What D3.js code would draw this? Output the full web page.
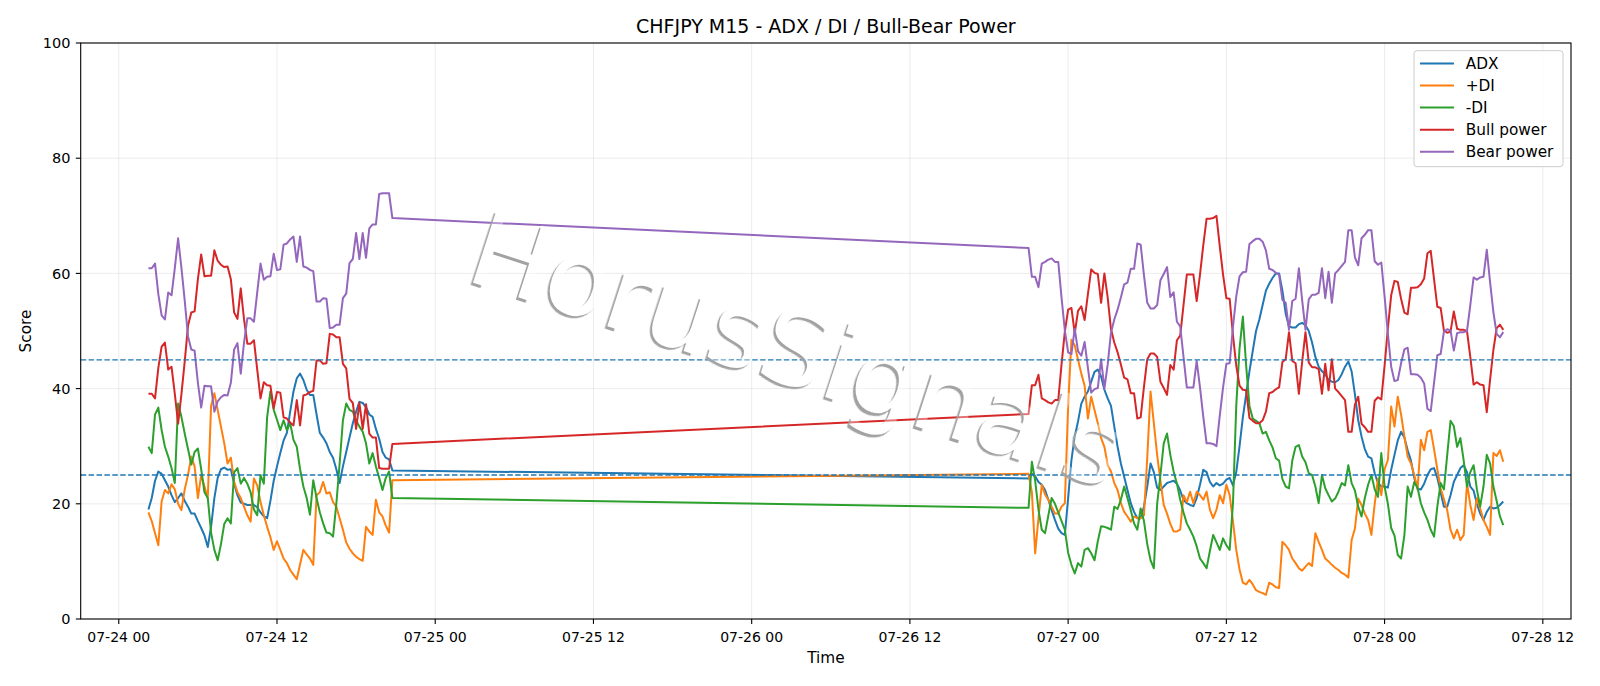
<!DOCTYPE html>
<html><head><meta charset="utf-8">
<script src="https://cdn.jsdelivr.net/npm/d3@7"></script>
<style>
html,body{margin:0;padding:0;background:#fff;}
svg{display:block;}
text{font-family:"DejaVu Sans",sans-serif;}
</style>
</head><body>
<svg id="chart" width="1600" height="686"></svg>
<script>
// ---- DATA ----
const sessions = [
  {start: "2020-07-24 02:15", bars: 75},
  {start: "2020-07-26 21:00", bars: 145}
];
const seriesNames = ["ADX", "+DI", "-DI", "Bull power", "Bear power"];
const yTicks = [0, 20, 40, 60, 80, 100];
const refLevels = [25, 45];

const adx = [
  19, 21, 24, 25.6, 25.2, 24.1, 23, 21.5, 20.3, 21,
  21.8, 20.5, 19.5, 18.3, 18.3, 17, 15.8, 14.5, 12.5, 16,
  21, 24.5, 26, 26.3, 25.9, 26, 23.5, 21.5, 20.2, 20,
  19.8, 19.8, 19.8, 19.4, 18.5, 17.8, 17.5, 20.5, 24, 26.5,
  28.8, 31, 32.3, 36, 39.5, 41.8, 42.6, 41.5, 39.8, 38.9,
  38.9, 35.5, 32.3, 31.5, 30.5, 29, 28, 26, 23.6, 26.5,
  29, 31.5, 34, 36, 37.7, 37.5, 36.8, 35.5, 35.1, 33,
  31.3, 29, 28, 27.7, 25.8,
  24.4, 25.2, 24.8, 23.8, 23.3, 22.4, 20.7, 18.9, 17.2, 15.7,
  14.9, 14.6, 21, 27.6, 31.7, 34.3, 37.4, 38.6, 39.5, 41.2,
  42.9, 43.3, 42.1, 39.8, 38.3, 37, 33.4, 29.9, 27.0, 24.7,
  22.4, 20.1, 18.6, 17.5,
  17.5, 19.5, 23, 27, 25.5, 22.8, 22.4, 23, 23.6, 23.8,
  24, 23.5, 22.3, 20.7, 20.1, 19.8, 19.6, 21, 23.3, 25.9,
  25.5, 23.8, 23, 23.6, 23.2, 23.5, 24.2, 24.5, 23.2, 25.5,
  30, 35, 39, 43, 46.5, 50, 52,
  54.5, 57, 58.2, 59.2, 60, 60, 57, 53, 50.8, 50.6,
  50.6, 51.2, 51.4, 51, 50, 48, 45.5, 43.8, 43, 42.5,
  41.5, 41.2, 41.1, 41.5, 42.5, 43.8, 44.7, 43, 39, 34.5,
  31.7, 29.5, 28.2, 27.9,
  25.3, 23.6, 23.0, 23.0, 22.8, 25.9, 28.5, 31, 32.5, 31.5,
  29.3, 27.5, 24.5, 22.6, 22.5, 23.5, 25, 26, 26.2, 24.5,
  22, 19.5, 19.5, 21.5, 23.8, 25, 26.2, 26.7, 25.5, 23,
  22.3, 20, 18.3, 17.2, 18.6, 19.5, 19.2, 19.3, 19.8, 20.4
];
const plusDI = [
  18.5, 17, 14.9, 12.8, 20.4, 22.4, 21.8, 23.4, 22.5, 20,
  18.9, 22.5, 25, 28.2, 26.5, 21, 25, 23, 21, 37,
  39.2, 36.3, 33.4, 30.5, 27, 28, 23.8, 22, 21, 19.5,
  18, 16.9, 24.4, 23.2, 20.3, 18, 16, 14.2, 12, 13.5,
  12, 10.5, 9.7, 8.5, 7.7, 6.9, 9.5, 12, 11.2, 10.5,
  9.4, 21.5, 22, 23.8, 21.8, 22, 20.3, 19.5, 17.5, 15.5,
  13.3, 12.2, 11.4, 10.8, 10.4, 10.1, 16, 15.2, 14.6, 20.7,
  18.5, 17.8, 16.2, 15, 24.1,
  25.2, 22, 11.4, 17.5, 23.3, 21.6, 20.7, 19.5, 18.3, 18.3,
  19.5, 20.1, 37, 48.5, 47.5, 45, 42.6, 40.5, 34.8, 38.6,
  36.3, 34, 31.4, 29.9, 26.7, 25.6, 23.6, 22.4, 20.1, 18.6,
  17.8, 16.9, 17.8, 17.5,
  17.5, 18, 28, 39.5, 34, 28.5, 24, 19.8, 18.3, 16.5,
  15.2, 15.2, 15.5, 21.5, 20.3, 22.1, 20.1, 22.1, 21.5, 20.7,
  22.1, 19, 17.5, 19, 21.5, 20.1, 23.3, 21.5, 17, 12,
  8.6, 6.3, 6, 6.8, 6, 5.0, 4.7,
  4.5, 4.2, 6.3, 6.0, 5.5, 5.4, 13.4, 12.8, 12.0, 10.5,
  9.7, 8.8, 8.4, 9.1, 9.7, 9.2, 14.9, 13.4, 12.0, 10.5,
  10, 9.4, 8.9, 8.5, 8, 7.7, 7.2, 13.7, 15.7, 20.9,
  19.8, 18.3, 17.2, 14.6,
  20, 24.4, 21.5, 26, 27.6, 36.9, 33.4, 38.6, 35.5, 31.7,
  28.2, 27, 25.0, 22.5, 31.1, 29.3, 32.5, 32.8, 29.5, 26.0,
  22.7, 20.8, 18.9, 15.5, 14.0, 15.5, 13.7, 14.6, 23.6, 19.8,
  17.2, 21, 19.2, 17.2, 16, 14.6, 28.8, 28.3, 29.3, 27.3
];
const minusDI = [
  29.9, 28.8, 35.5, 36.7, 32.8, 29.9, 28.2, 26.2, 23.6, 37.4,
  35.1, 32.2, 29.5, 26.8, 29, 29.6, 26, 22, 21, 15,
  12, 10.2, 13, 16.5, 17.5, 16.6, 25.5, 26.2, 23.5, 24.5,
  23.5, 22, 19, 18, 25, 23.5, 35, 39.5, 36.3, 34.6,
  32.8, 34.5, 32.8, 34, 31.1, 29.9, 26, 23, 21, 18.1,
  24.1, 21, 18.5, 16.6, 15, 14.9, 14.3, 20, 27, 34.5,
  37.4, 36.3, 36, 34.5, 33.4, 32.5, 30.5, 27, 28.8, 26.5,
  24.5, 22.4, 24.5, 25.6, 21,
  19.3, 27.3, 24, 19, 15.5, 14.9, 18, 21, 20, 18.5,
  17, 15.5, 11.5, 9.4, 7.9, 9.7, 9.1, 12.0, 12.3, 11.4,
  10.2, 13.5, 16.1, 16.0, 15.8, 15.5, 19.5, 19.1, 20.7, 23.0,
  21, 18.9, 16.6, 15.5,
  19.2, 17, 13, 10.2, 8.8, 20, 25, 30.5, 32.2, 28.5,
  25.6, 23.5, 20.7, 18.5, 16.6, 15.5, 14.3, 12.6, 10.5, 9.7,
  8.8, 11.8, 14.6, 13.3, 12, 14, 12.8, 12, 20, 37,
  47, 52.5, 44, 37, 34.8, 34.4, 34,
  32.2, 32.5, 31, 29.8, 27.9, 27.5, 24.3, 23, 22.7, 27.5,
  29.9, 30.2, 28.2, 27.2, 25.3, 25, 23, 20.1, 25, 22.7,
  21.5, 20.4, 20.9, 22.1, 23.6, 23.2, 26.7, 23.6, 22.3, 19.5,
  17.8, 21, 23.3, 25,
  22.5, 21.2, 28.8, 23, 20, 15.8, 14.5, 11.1, 10.5, 14.5,
  23.0, 21.2, 23.8, 22.8, 20.1, 18.5, 17.2, 15.5, 14.3, 19.5,
  23.6, 22.5, 28.5, 34.4, 33.5, 29.9, 31.4, 27.5, 23.0, 25.5,
  26.7, 22.5, 19.5, 23, 28.5, 27, 23, 20.5, 17.8, 16.3
];
const bullPower = [
  39.1, 39.1, 38.3, 43.6, 47.3, 48.0, 43.3, 43.8, 39.1, 33.9,
  39.0, 44.7, 50.9, 53.2, 53.4, 59.0, 63.3, 59.5, 59.6, 59.6,
  64.0, 62.2, 61.5, 61.1, 61.2, 59.0, 53.2, 52.1, 57.4, 52.0,
  47.8, 47.8, 48.4, 43.3, 38.3, 41.1, 40.6, 40.5, 36.6, 39.4,
  39.3, 35.0, 34.8, 34.1, 33.6, 38.0, 33.6, 38.8, 39.0, 39.4,
  39.6, 44.9, 44.9, 44.3, 44.4, 49.5, 49.4, 48.9, 48.9, 44.3,
  43.5, 38.2, 37.5, 33.0, 37.5, 33.0, 37.3, 32.2, 31.5, 31.5,
  26.2, 26.1, 26.1, 26.1, 30.4,
  35.6, 40.6, 40.6, 42.4, 38.3, 38.0, 37.6, 37.4, 38.0, 38.0,
  44.2, 49.9, 53.7, 54.0, 49.6, 53.5, 54.3, 51.9, 56.4, 60.7,
  60.1, 59.9, 54.9, 60.0, 55.8, 50.3, 48.0, 46.3, 44.2, 41.9,
  41.6, 39.2, 39.2, 34.8,
  35.0, 40.3, 45.1, 46.1, 46.1, 45.5, 41.2, 40.1, 38.9, 44.1,
  43.3, 48.4, 49.2, 54.5, 59.8, 59.8, 59.8, 55.2, 59.8, 64.9,
  69.5, 69.5, 69.6, 70.0, 64.7, 59.8, 55.7, 55.6, 49.3, 44.0,
  40.5, 39.8, 39.7, 34.9, 34.4,
  34.0, 34.0, 34.5, 36.0, 39.2, 39.4, 39.9, 40.2, 44.6, 45.1,
  49.8, 44.8, 44.4, 39.1, 44.7, 49.8, 44.5, 43.7, 43.7, 43.4,
  39.1, 44.3, 39.7, 45.1, 40.0, 39.4, 38.7, 38.0, 32.5, 32.5,
  37.2, 38.6, 33.9, 33.3, 32.5, 32.5,
  37.9, 38.5, 38.1, 44.0, 50.5, 56.2, 58.7, 58.5, 55.6, 53.2,
  52.9, 57.5, 57.5, 57.6, 58.1, 59.1, 63.5, 63.9, 59.0, 54.2,
  54.0, 50.1, 49.7, 49.9, 53.4, 50.4, 50.2, 50.2, 50.0, 45.5,
  40.7, 41.1, 40.7, 40.6, 35.9, 41.5, 46.7, 50.5, 51.1, 50.2
];
const bearPower = [
  60.9, 60.9, 61.7, 56.4, 52.7, 52.0, 56.7, 56.2, 60.9, 66.1,
  61.0, 55.3, 49.1, 46.8, 46.6, 41.0, 36.7, 40.5, 40.4, 40.4,
  36.0, 37.8, 38.5, 38.9, 38.8, 41.0, 46.8, 47.9, 42.6, 48.0,
  52.2, 52.2, 51.6, 56.7, 61.7, 58.9, 59.4, 59.5, 63.4, 60.6,
  60.7, 65.0, 65.2, 65.9, 66.4, 62.0, 66.4, 61.2, 61.0, 60.6,
  60.4, 55.1, 55.1, 55.7, 55.6, 50.5, 50.6, 51.1, 51.1, 55.7,
  56.5, 61.8, 62.5, 67.0, 62.5, 67.0, 62.7, 67.8, 68.5, 68.5,
  73.8, 73.9, 73.9, 73.9, 69.6,
  64.4, 59.4, 59.4, 57.6, 61.7, 62.0, 62.4, 62.6, 62.0, 62.0,
  55.8, 50.1, 46.3, 46.0, 50.4, 46.5, 45.7, 48.1, 43.6, 39.3,
  39.9, 40.1, 45.1, 40.0, 44.2, 49.7, 52.0, 53.7, 55.8, 58.1,
  58.4, 60.8, 60.8, 65.2,
  65.0, 59.7, 54.9, 53.9, 53.9, 54.5, 58.8, 59.9, 61.1, 55.9,
  56.7, 51.6, 50.8, 45.5, 40.2, 40.2, 40.2, 44.8, 40.2, 35.1,
  30.5, 30.5, 30.4, 30.0, 35.3, 40.2, 44.3, 44.4, 50.7, 56.0,
  59.5, 60.2, 60.3, 65.1, 65.6,
  66.0, 66.0, 65.5, 64.0, 60.8, 60.6, 60.1, 59.8, 55.4, 54.9,
  50.2, 55.2, 55.6, 60.9, 55.3, 50.2, 55.5, 56.3, 56.3, 56.6,
  60.9, 55.7, 60.3, 54.9, 60.0, 60.6, 61.3, 62.0, 67.5, 67.5,
  62.8, 61.4, 66.1, 66.7, 67.5, 67.5,
  62.1, 61.5, 61.9, 56.0, 49.5, 43.8, 41.3, 41.5, 44.4, 46.8,
  47.1, 42.5, 42.5, 42.4, 41.9, 40.9, 36.5, 36.1, 41.0, 45.8,
  46.0, 49.9, 50.3, 50.1, 46.6, 49.6, 49.8, 49.8, 50.0, 54.5,
  59.3, 58.9, 59.3, 59.4, 64.1, 58.5, 53.3, 49.5, 48.9, 49.8
];

// ---- BUILD ----
const parse = d3.utcParse("%Y-%m-%d %H:%M");
const times = [];
sessions.forEach(s => {
  const t0 = parse(s.start);
  for (let k = 0; k < s.bars; k++) times.push(d3.utcMinute.offset(t0, 15 * k));
});
const colors = ["#1f77b4", "#ff7f0e", "#2ca02c", "#d62728", "#9467bd"];
const allSeries = [adx, plusDI, minusDI, bullPower, bearPower];

const W = 1600, H = 686;
const m = {l: 80.7, r: 29, t: 43, b: 67};
const svg = d3.select("#chart");

const tMin = times[0], tMax = times[times.length - 1];
const pad = (tMax - tMin) * 0.05;
const x = d3.scaleUtc()
  .domain([new Date(+tMin - pad), new Date(+tMax + pad)])
  .range([m.l, W - m.r]);
const y = d3.scaleLinear().domain([0, 100]).range([H - m.b, m.t]);

const xTicks = x.ticks(d3.utcHour.every(12));
const fmt = d3.utcFormat("%m-%d %H");

// grid
const grid = svg.append("g");
grid.selectAll("line.gx").data(xTicks).join("line")
  .attr("x1", d => x(d)).attr("x2", d => x(d))
  .attr("y1", m.t).attr("y2", H - m.b)
  .attr("stroke", "#b0b0b0").attr("stroke-opacity", 0.3).attr("stroke-width", 0.8);
grid.selectAll("line.gy").data(yTicks).join("line")
  .attr("x1", m.l).attr("x2", W - m.r)
  .attr("y1", d => y(d)).attr("y2", d => y(d))
  .attr("stroke", "#b0b0b0").attr("stroke-opacity", 0.3).attr("stroke-width", 0.8);

// series
const line = d3.line().x((d, i) => x(times[i])).y(d => y(d));
const plot = svg.append("g");
allSeries.forEach((vals, k) => {
  plot.append("path").datum(vals)
    .attr("d", line)
    .attr("fill", "none")
    .attr("stroke", colors[k])
    .attr("stroke-width", 2)
    .attr("stroke-linejoin", "round");
});

// reference levels
plot.selectAll("line.ref").data(refLevels).join("line")
  .attr("x1", m.l).attr("x2", W - m.r)
  .attr("y1", d => y(d)).attr("y2", d => y(d))
  .attr("stroke", "#1f77b4").attr("stroke-width", 1.3)
  .attr("stroke-dasharray", "5.5,2.4");

// axes
const axG = svg.append("g");
axG.append("rect")
  .attr("x", m.l).attr("y", m.t)
  .attr("width", W - m.r - m.l).attr("height", H - m.b - m.t)
  .attr("fill", "none").attr("stroke", "#000").attr("stroke-width", 1.1);

axG.selectAll("line.xt").data(xTicks).join("line")
  .attr("x1", d => x(d)).attr("x2", d => x(d))
  .attr("y1", H - m.b).attr("y2", H - m.b + 4.9)
  .attr("stroke", "#000").attr("stroke-width", 1.1);
axG.selectAll("text.xt").data(xTicks).join("text")
  .attr("x", d => x(d)).attr("y", 642)
  .attr("text-anchor", "middle").attr("font-size", 14).attr("fill", "#000")
  .text(d => fmt(d));

axG.selectAll("line.yt").data(yTicks).join("line")
  .attr("x1", m.l - 4.9).attr("x2", m.l)
  .attr("y1", d => y(d)).attr("y2", d => y(d))
  .attr("stroke", "#000").attr("stroke-width", 1.1);
axG.selectAll("text.yt").data(yTicks).join("text")
  .attr("x", 70.5).attr("y", d => y(d) + 5.2)
  .attr("text-anchor", "end").attr("font-size", 14.5).attr("fill", "#000")
  .text(d => d);

// labels
svg.append("text").attr("x", (m.l + W - m.r) / 2).attr("y", 33)
  .attr("text-anchor", "middle").attr("font-size", 19).attr("fill", "#000")
  .text("CHFJPY M15 - ADX / DI / Bull-Bear Power");
svg.append("text").attr("x", (m.l + W - m.r) / 2).attr("y", 662.5)
  .attr("text-anchor", "middle").attr("font-size", 15.3).attr("fill", "#000")
  .text("Time");
svg.append("text")
  .attr("transform", `translate(31,${(m.t + H - m.b) / 2}) rotate(-90)`)
  .attr("text-anchor", "middle").attr("font-size", 15.3).attr("fill", "#000")
  .text("Score");

// watermark
const defs = svg.append("defs");
const wmText = "HorusSignals";
const wmSize = 104;
const mask = defs.append("mask").attr("id", "wmMask")
  .attr("maskUnits", "userSpaceOnUse")
  .attr("x", -1000).attr("y", -600).attr("width", 2000).attr("height", 1200);
mask.append("rect").attr("x", -1000).attr("y", -600).attr("width", 2000).attr("height", 1200).attr("fill", "#fff");
mask.append("text").attr("text-anchor", "middle").attr("dominant-baseline", "central")
  .attr("font-size", wmSize).attr("fill", "#000").text(wmText);
const blur = defs.append("filter").attr("id", "wmBlur");
blur.append("feGaussianBlur").attr("stdDeviation", 0.5);

const wm = svg.append("g").attr("transform", "translate(797,350) rotate(18)");
wm.append("text").attr("text-anchor", "middle").attr("dominant-baseline", "central")
  .attr("font-size", wmSize).attr("fill", "#ffffff").attr("fill-opacity", 0.35)
  .text(wmText);
wm.append("g").attr("mask", "url(#wmMask)")
  .append("text").attr("x", -1.6).attr("y", 3.0)
  .attr("text-anchor", "middle").attr("dominant-baseline", "central")
  .attr("font-size", wmSize).attr("fill", "#a2a2a2").attr("filter", "url(#wmBlur)")
  .text(wmText);

// legend
const lg = svg.append("g");
lg.append("rect").attr("x", 1414).attr("y", 50.7).attr("width", 149).attr("height", 116)
  .attr("rx", 3).attr("fill", "#fff").attr("fill-opacity", 0.8)
  .attr("stroke", "#cccccc").attr("stroke-width", 1);
seriesNames.forEach((name, k) => {
  const yy = 63.5 + k * 22.05;
  lg.append("line").attr("x1", 1420).attr("x2", 1454).attr("y1", yy).attr("y2", yy)
    .attr("stroke", colors[k]).attr("stroke-width", 2);
  lg.append("text").attr("x", 1465.7).attr("y", yy + 5.5)
    .attr("font-size", 15.3).attr("fill", "#000").text(name);
});
</script>
</body></html>
